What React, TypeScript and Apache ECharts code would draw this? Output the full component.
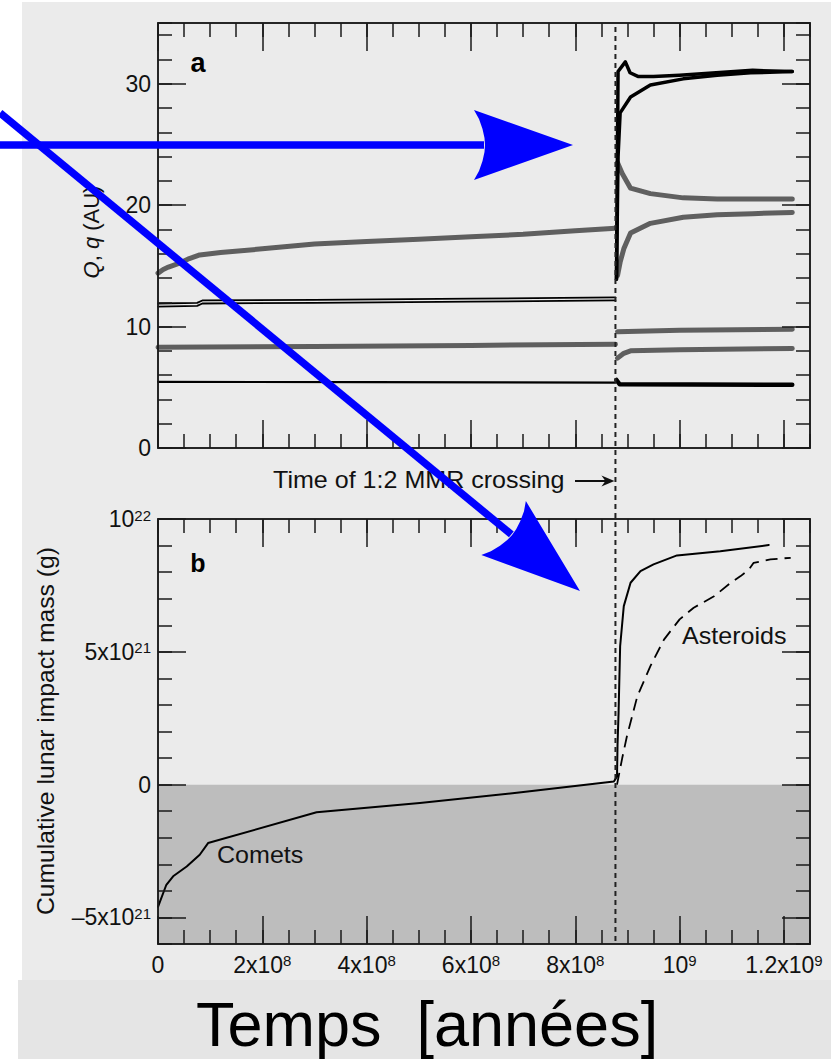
import React, { useEffect, useRef } from "react";
import * as echarts from "echarts";

// ---------- axes ----------
const X_MIN = 0;
const X_MAX = 1.25e9;
const X_MINOR = 5e7;
const X_MAJOR = [0, 2e8, 4e8, 6e8, 8e8, 1e9, 1.2e9];
const TOP_Y_MIN = 0;
const TOP_Y_MAX = 35;
const TOP_Y_MINOR = 2;
const TOP_Y_MAJOR = [0, 10, 20, 30];
const BOT_Y_MIN = -6e21;
const BOT_Y_MAX = 1e22;
const BOT_Y_MINOR = 1e21;
const BOT_Y_MAJOR = [-5e21, 0, 5e21, 1e22];
const CROSSING = 8.77e8; // time of 1:2 MMR crossing (years)

// ---------- panel a : Q, q (AU) ----------
const grayUpperPre = [[0, 14.4], [1e7, 14.7], [2e7, 14.9], [4e7, 15.2], [6e7, 15.6], [8e7, 15.9], [1.2e8, 16.1], [2e8, 16.4], [3e8, 16.8], [4e8, 17.0], [5e8, 17.2], [6e8, 17.4], [7e8, 17.6], [8e8, 17.9], [8.77e8, 18.1]];
const blackPreA = [[0, 11.65], [7.5e7, 11.7], [8.5e7, 11.9], [3e8, 11.95], [6e8, 12.05], [8.77e8, 12.15]];
const blackPreB = [[0, 11.9], [7.5e7, 11.95], [8.5e7, 12.15], [3e8, 12.2], [6e8, 12.3], [8.77e8, 12.4]];
const grayMidPre = [[0, 8.3], [3e8, 8.35], [6e8, 8.45], [8.77e8, 8.55]];
const blackLowPre = [[0, 5.45], [4e8, 5.42], [8.77e8, 5.38]];
const blackUpperPost = [[8.79e8, 13.9], [8.82e8, 31.0], [8.96e8, 31.8], [9.05e8, 30.9], [9.2e8, 30.6], [9.5e8, 30.6], [1.0e9, 30.7], [1.07e9, 30.9], [1.14e9, 31.1], [1.216e9, 31.0]];
const blackLowerPost = [[8.79e8, 13.9], [8.82e8, 24.0], [8.86e8, 27.6], [9.06e8, 28.9], [9.44e8, 29.9], [1.007e9, 30.4], [1.072e9, 30.7], [1.136e9, 30.9], [1.216e9, 31.0]];
const grayUpperPost = [[8.81e8, 23.5], [8.9e8, 22.6], [9.06e8, 21.4], [9.44e8, 20.95], [1.007e9, 20.6], [1.072e9, 20.5], [1.216e9, 20.5]];
const grayLowerPost = [[8.81e8, 14.2], [8.86e8, 15.3], [8.93e8, 16.4], [9.06e8, 17.7], [9.44e8, 18.5], [1.007e9, 19.0], [1.072e9, 19.2], [1.14e9, 19.3], [1.216e9, 19.4]];
const grayMidHighPost = [[8.81e8, 9.58], [1.0e9, 9.7], [1.216e9, 9.78]];
const grayMidLowPost = [[8.81e8, 7.4], [8.93e8, 7.8], [9.06e8, 8.0], [1.0e9, 8.1], [1.216e9, 8.2]];
const blackLowPost = [[8.79e8, 5.6], [8.85e8, 5.25], [1.216e9, 5.2]];

// ---------- panel b : cumulative lunar impact mass (g) ----------
const cometsMass = [[0, -4.6e21], [1.6e7, -3.77e21], [2.9e7, -3.45e21], [5.5e7, -3.08e21], [8e7, -2.64e21], [9.6e7, -2.2e21], [3.04e8, -1.04e21], [5.02e8, -0.69e21], [6.88e8, -0.31e21], [8.74e8, 0.12e21], [8.8e8, 0.3e21], [8.81e8, 1.5e21], [8.83e8, 2.7e21], [8.86e8, 5.21e21], [8.93e8, 6.72e21], [9.06e8, 7.6e21], [9.25e8, 8.04e21], [9.5e8, 8.29e21], [9.95e8, 8.63e21], [1.078e9, 8.79e21], [1.171e9, 9.02e21]];
const asteroidsMass = [[8.8e8, 0], [8.9e8, 1.0e21], [8.99e8, 1.82e21], [9.19e8, 3.33e21], [9.44e8, 4.46e21], [9.7e8, 5.46e21], [1.0e9, 6.22e21], [1.027e9, 6.66e21], [1.066e9, 7.09e21], [1.098e9, 7.6e21], [1.117e9, 7.85e21], [1.133e9, 8.1e21], [1.142e9, 8.35e21], [1.174e9, 8.48e21], [1.213e9, 8.54e21]];

const FONT = "'Liberation Sans', Arial, Helvetica, sans-serif";
const AX = "#1a1a1a";
const GRAY = "#5f5f5f";
const BG = "#ebebeb";

const rich = {
  n: { fontSize: 23, fontFamily: FONT, color: "#111" },
  s: { fontSize: 15, fontFamily: FONT, color: "#111", verticalAlign: "top" as const, lineHeight: 15 },
};

function xLabel(v: number) {
  const k = Math.round(v / 1e8);
  if (k === 0) return "{n|0}";
  if (k === 10) return "{n|10}{s|9}";
  if (k === 12) return "{n|1.2x10}{s|9}";
  return `{n|${k}x10}{s|8}`;
}
function yBotLabel(v: number) {
  const k = Math.round(v / 1e21);
  if (k === 10) return "{n|10}{s|22}";
  if (k === 5) return "{n|5x10}{s|21}";
  if (k === 0) return "{n|0}";
  if (k === -5) return "{n|\u20135x10}{s|21}";
  return "";
}

function axesFor(dim: "x" | "y", grid: number, min: number, max: number, minor: number, major: number[], label: any) {
  const base = {
    type: "value",
    gridIndex: grid,
    min,
    max,
    z: 10,
    splitLine: { show: false },
    axisLine: { show: true, onZero: false, lineStyle: { color: AX, width: 1.5 } },
  };
  const pos = dim === "x" ? ["bottom", "top"] : ["left", "right"];
  const tick = (len: number) => ({ show: true, inside: true, length: len, lineStyle: { color: AX, width: 1.5 } });
  return [
    { ...base, position: pos[0], interval: minor, axisTick: tick(14), axisLabel: { show: false } },
    { ...base, position: pos[0], axisTick: { ...tick(28), customValues: major }, axisLabel: label || { show: false } },
    { ...base, position: pos[1], interval: minor, axisTick: tick(14), axisLabel: { show: false } },
    { ...base, position: pos[1], axisTick: { ...tick(28), customValues: major }, axisLabel: { show: false } },
  ];
}

function line(data: number[][], grid: number, color: string, width: number, extra: any = {}) {
  return {
    type: "line",
    xAxisIndex: grid * 4,
    yAxisIndex: grid * 4,
    data,
    symbol: "none",
    showSymbol: false,
    silent: true,
    z: 3,
    lineStyle: { color, width, join: "round", cap: "round" },
    ...extra,
  };
}

function arrow(x0: number, y0: number, tx: number, ty: number, color: string) {
  const dx = tx - x0, dy = ty - y0;
  const L = Math.hypot(dx, dy);
  const ux = dx / L, uy = dy / L;
  const local = [[0, 0], [-99, -35], [-94, -26], [-90.5, -16], [-88.5, -7], [-88, 0], [-88.5, 7], [-90.5, 16], [-94, 26], [-99, 35]];
  const pts = local.map(([a, b]) => [tx + a * ux - b * uy, ty + a * uy + b * ux]);
  return [
    { type: "line", z: 100, shape: { x1: x0, y1: y0, x2: tx - 89 * ux, y2: ty - 89 * uy }, style: { stroke: color, lineWidth: 7.5 } },
    { type: "polygon", z: 100, shape: { points: pts }, style: { fill: color } },
  ];
}

export default function App() {
  const ref = useRef<HTMLDivElement>(null);
  useEffect(() => {
    document.body.style.margin = "0";
    const chart = echarts.init(ref.current!, null, { renderer: "svg" });
    const xLab = { show: true, margin: 9, fontFamily: FONT, fontSize: 23, color: "#111", customValues: X_MAJOR, formatter: xLabel, rich };
    const yTopLab = { show: true, margin: 7, fontFamily: FONT, fontSize: 23, color: "#111", customValues: TOP_Y_MAJOR };
    const yBotLab = { show: true, margin: 7, fontFamily: FONT, fontSize: 23, color: "#111", customValues: BOT_Y_MAJOR, formatter: yBotLabel, rich };
    const option: any = {
      animation: false,
      backgroundColor: "#ffffff",
      textStyle: { fontFamily: FONT },
      grid: [
        { left: 158, top: 23, width: 652, height: 425, outerBoundsMode: "none", containLabel: false },
        { left: 158, top: 519, width: 652, height: 425, outerBoundsMode: "none", containLabel: false },
      ],
      xAxis: [
        ...axesFor("x", 0, X_MIN, X_MAX, X_MINOR, X_MAJOR, null),
        ...axesFor("x", 1, X_MIN, X_MAX, X_MINOR, X_MAJOR, xLab),
      ],
      yAxis: [
        ...axesFor("y", 0, TOP_Y_MIN, TOP_Y_MAX, TOP_Y_MINOR, TOP_Y_MAJOR, yTopLab),
        ...axesFor("y", 1, BOT_Y_MIN, BOT_Y_MAX, BOT_Y_MINOR, BOT_Y_MAJOR, yBotLab),
      ],
      series: [
        line(grayUpperPre, 0, GRAY, 5),
        line(blackPreA, 0, "#000", 1.8),
        line(blackPreB, 0, "#000", 1.8),
        line(grayMidPre, 0, GRAY, 5),
        line(blackLowPre, 0, "#000", 2.2),
        line(grayUpperPost, 0, GRAY, 5),
        line(grayLowerPost, 0, GRAY, 5),
        line(grayMidHighPost, 0, GRAY, 5),
        line(grayMidLowPost, 0, GRAY, 5),
        line(blackUpperPost, 0, "#000", 3.5),
        line(blackLowerPost, 0, "#000", 3.5),
        line(blackLowPost, 0, "#000", 4.5),
        line(cometsMass, 1, "#000", 2, {
          markArea: {
            silent: true,
            z: 1,
            itemStyle: { color: "#bdbdbd" },
            data: [[{ yAxis: BOT_Y_MIN }, { yAxis: 0 }]],
          },
        }),
        line(asteroidsMass, 1, "#000", 1.8, { lineStyle: { color: "#000", width: 1.8, type: [12, 7] } }),
      ],
    };
    chart.setOption(option);

    const cx = chart.convertToPixel({ xAxisIndex: 0 }, CROSSING) as number;
    const yTop = chart.convertToPixel({ yAxisIndex: 0 }, TOP_Y_MAX) as number;
    const yBot = chart.convertToPixel({ yAxisIndex: 4 }, BOT_Y_MIN) as number;

    const T = (extra: any) => ({ type: "text", z: 20, ...extra });
    chart.setOption({
      graphic: [
        { type: "rect", z: -10, shape: { x: 22, y: 2, width: 809, height: 978 }, style: { fill: BG } },
        { type: "rect", z: -10, shape: { x: 18, y: 980, width: 813, height: 79 }, style: { fill: "#e5e5e5" } },
        { type: "line", z: 15, shape: { x1: cx, y1: yTop + 4, x2: cx, y2: yBot }, style: { stroke: "#222", lineWidth: 2, lineDash: [5, 4] } },
        T({ x: 198, y: 63, style: { text: "a", font: `bold 27px ${FONT}`, fill: "#000", align: "center", verticalAlign: "middle" } }),
        T({ x: 198, y: 563, style: { text: "b", font: `bold 25px ${FONT}`, fill: "#000", align: "center", verticalAlign: "middle" } }),
        T({
          x: 91, y: 232, rotation: Math.PI / 2,
          style: {
            text: "{i|Q}, {i|q} (AU)", fontFamily: FONT, fontSize: 22, fill: "#111", align: "center", verticalAlign: "middle",
            rich: { i: { fontStyle: "italic", fontFamily: FONT, fontSize: 22, fill: "#111" } },
          },
        }),
        T({ x: 46, y: 731, rotation: Math.PI / 2, scaleX: 1.03, style: { text: "Cumulative lunar impact mass (g)", fontFamily: FONT, fontSize: 24, fill: "#111", align: "center", verticalAlign: "middle" } }),
        T({ x: 273, y: 480, scaleX: 1.09, style: { text: "Time of 1:2 MMR crossing", fontFamily: FONT, fontSize: 23, fill: "#111", align: "left", verticalAlign: "middle" } }),
        { type: "line", z: 20, shape: { x1: 575, y1: 481, x2: 606, y2: 481 }, style: { stroke: "#111", lineWidth: 2 } },
        { type: "polygon", z: 20, shape: { points: [[cx - 1, 481], [cx - 14, 475.5], [cx - 10, 481], [cx - 14, 486.5]] }, style: { fill: "#111" } },
        T({ x: 217, y: 855, scaleX: 1.09, style: { text: "Comets", fontFamily: FONT, fontSize: 23, fill: "#111", align: "left", verticalAlign: "middle" } }),
        T({ x: 682, y: 636, scaleX: 1.09, style: { text: "Asteroids", fontFamily: FONT, fontSize: 23, fill: "#111", align: "left", verticalAlign: "middle" } }),
        T({ x: 427, y: 1024, style: { text: "Temps  [années]", fontFamily: FONT, fontSize: 63, fill: "#000", align: "center", verticalAlign: "middle" } }),
        ...arrow(0, 145, 573, 145, "#0000ff"),
        ...arrow(0, 113, 580, 591, "#0000ff"),
      ],
    });
    return () => chart.dispose();
  }, []);
  return <div ref={ref} style={{ width: 831, height: 1059 }} />;
}
